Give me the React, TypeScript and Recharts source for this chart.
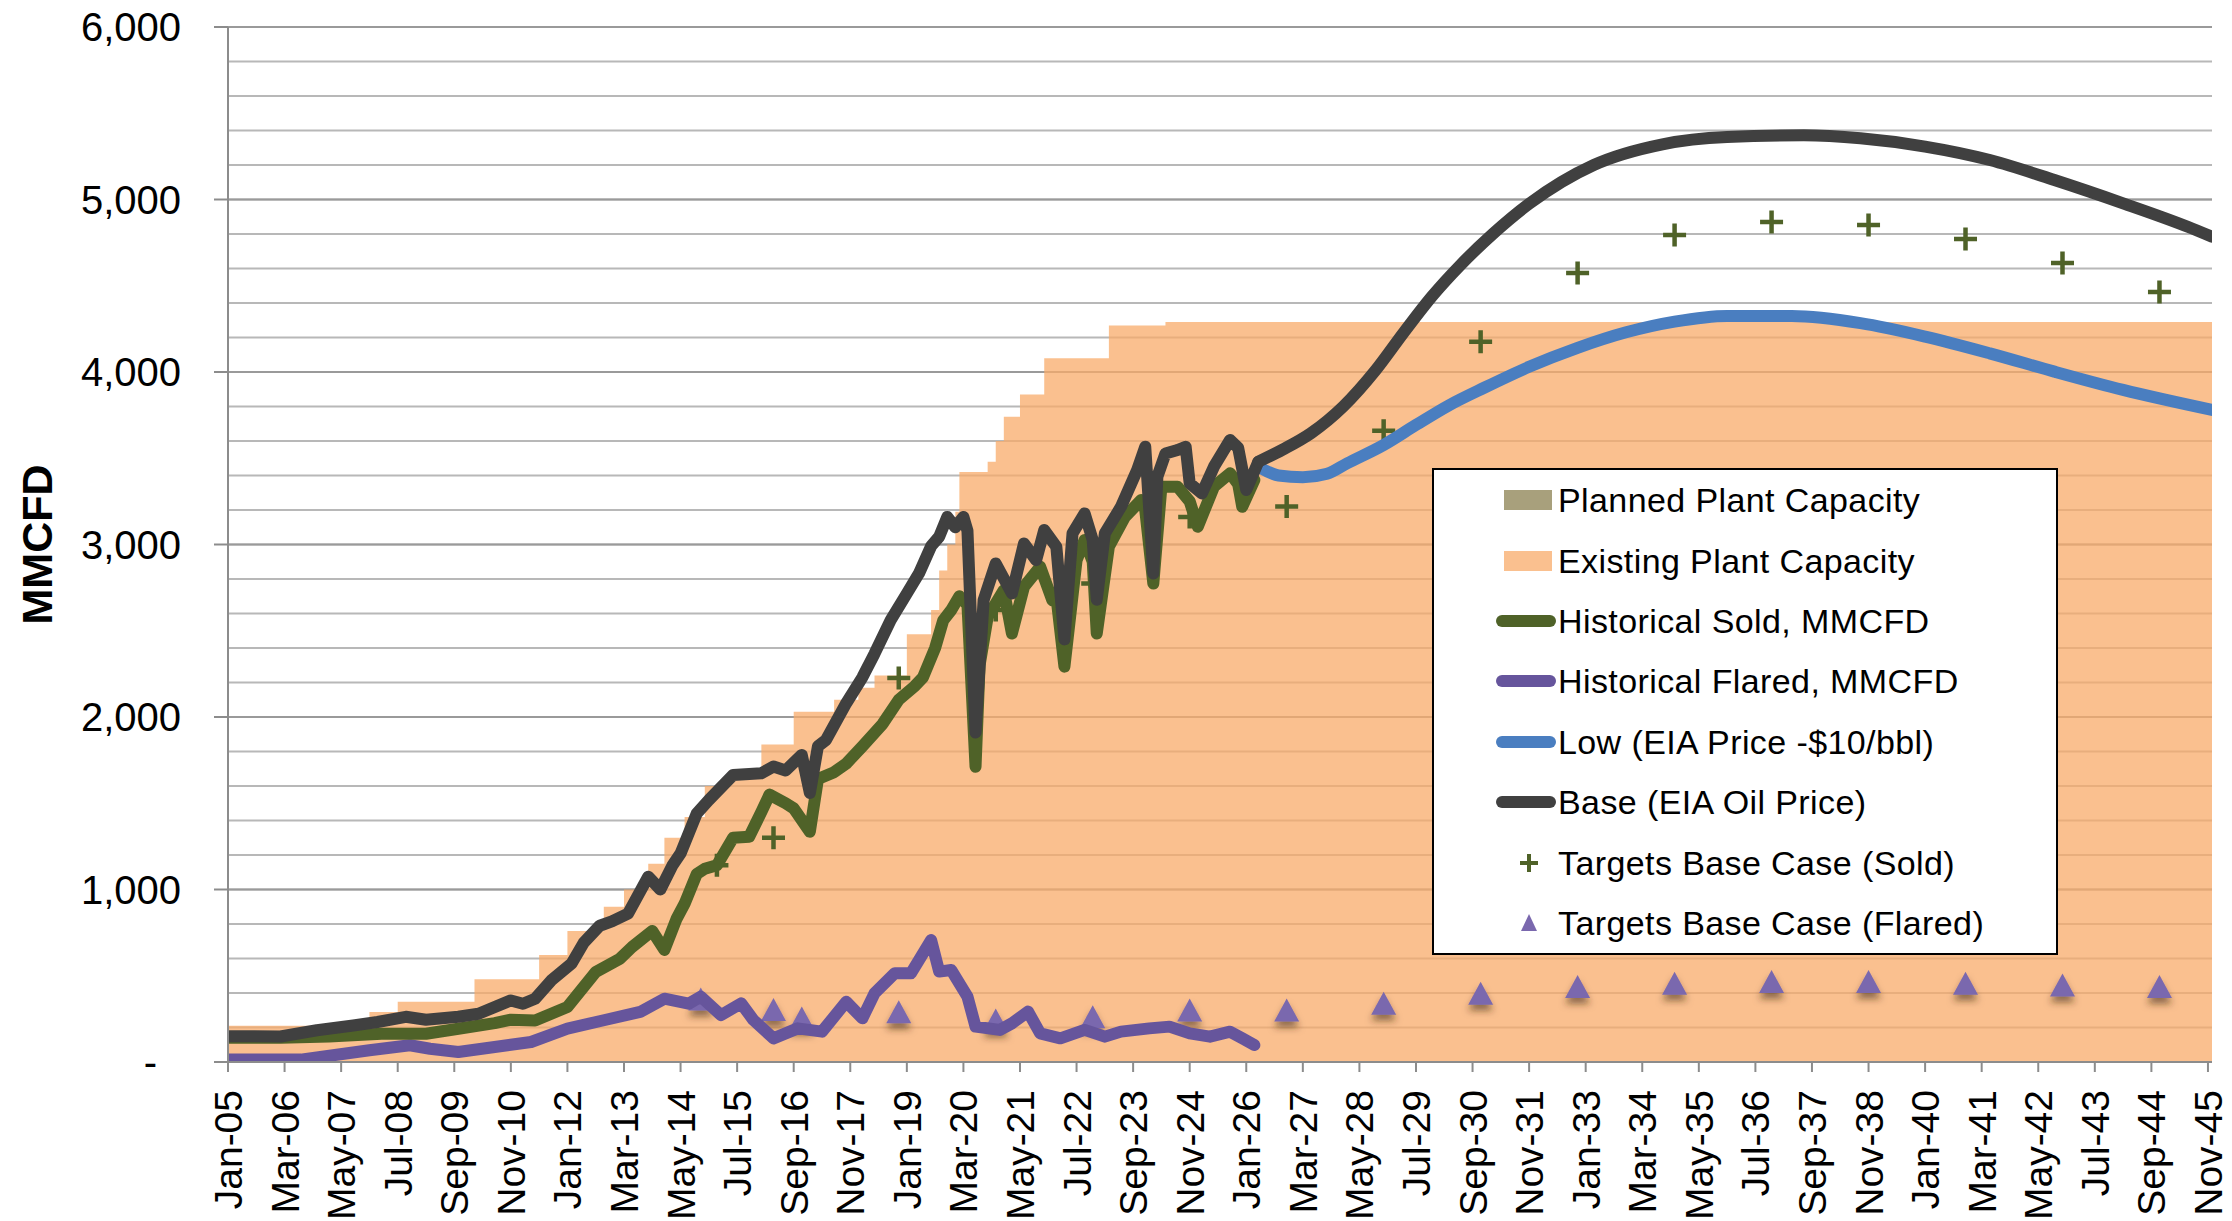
import React from 'react';
import { ComposedChart, Area, Line, Scatter, XAxis, YAxis, CartesianGrid, Legend } from 'recharts';

const FONT = '"Liberation Sans", Arial, Helvetica, sans-serif';

// X positions are months counted from Jan-05 (0) to Dec-45 (491)
const xTickMonths = [0, 14, 28, 42, 56, 70, 84, 98, 112, 126, 140, 154, 168, 182, 196, 210, 224, 238, 252, 266, 280, 294, 308, 322, 336, 350, 364, 378, 392, 406, 420, 434, 448, 462, 476, 490];
const xTickLabels = ['Jan-05', 'Mar-06', 'May-07', 'Jul-08', 'Sep-09', 'Nov-10', 'Jan-12', 'Mar-13', 'May-14', 'Jul-15', 'Sep-16', 'Nov-17', 'Jan-19', 'Mar-20', 'May-21', 'Jul-22', 'Sep-23', 'Nov-24', 'Jan-26', 'Mar-27', 'May-28', 'Jul-29', 'Sep-30', 'Nov-31', 'Jan-33', 'Mar-34', 'May-35', 'Jul-36', 'Sep-37', 'Nov-38', 'Jan-40', 'Mar-41', 'May-42', 'Jul-43', 'Sep-44', 'Nov-45'];
const yMajorTicks = [0, 1000, 2000, 3000, 4000, 5000, 6000];
const yMinorTicks = [0, 200, 400, 600, 800, 1000, 1200, 1400, 1600, 1800, 2000, 2200, 2400, 2600, 2800, 3000, 3200, 3400, 3600, 3800, 4000, 4200, 4400, 4600, 4800, 5000, 5200, 5400, 5600, 5800, 6000];

// Existing Plant Capacity (step changes)
const capacityMonths = [0, 35, 42, 61, 77, 84, 93, 98, 104, 108, 113, 118, 124, 132, 140, 150, 156, 160, 168, 174, 176, 178, 180, 181, 188, 190, 192, 196, 202, 218, 232, 491];
const capacityValues = [210, 290, 350, 480, 620, 760, 900, 1000, 1150, 1300, 1420, 1600, 1690, 1840, 2030, 2100, 2170, 2240, 2480, 2620, 2850, 3000, 3190, 3420, 3480, 3600, 3740, 3870, 4080, 4270, 4290, 4290];

// Base (EIA Oil Price) - historical part
const baseHistMonths = [0, 13, 22, 31, 37, 44, 49, 57, 62, 70, 73, 76, 80, 85, 88, 92, 95, 99, 104, 107, 110, 112, 116, 119, 125, 132, 135, 138, 142, 144, 146, 148, 153, 157, 160, 164, 168, 171, 174, 176, 178, 180, 182, 183, 185, 187, 190, 194, 197, 200, 202, 205, 207, 209, 212, 214, 215, 217, 221, 225, 227, 229, 230, 232, 235, 237, 238, 241, 244, 248, 250, 252, 255];
const baseHistValues = [150, 148, 184, 212, 232, 262, 245, 262, 280, 357, 338, 367, 473, 570, 690, 790, 815, 860, 1074, 1000, 1140, 1209, 1441, 1519, 1664, 1674, 1713, 1690, 1780, 1560, 1830, 1867, 2080, 2230, 2367, 2561, 2716, 2832, 2990, 3045, 3160, 3100, 3160, 3080, 1910, 2677, 2890, 2716, 3006, 2909, 3084, 2987, 2450, 3064, 3180, 3026, 2680, 3064, 3219, 3432, 3567, 2832, 3393, 3528, 3548, 3567, 3354, 3296, 3451, 3606, 3560, 3316, 3480];

// Base (EIA Oil Price) - forecast part
const baseFcstMonths = [255, 261, 268, 276, 284, 291, 298, 305, 313, 322, 338, 355, 371, 390, 404, 420, 436, 452, 469, 485, 491];
const baseFcstValues = [3480, 3550, 3645, 3800, 4010, 4230, 4440, 4620, 4800, 4975, 5200, 5320, 5362, 5372, 5355, 5307, 5229, 5113, 4978, 4842, 4784];

// Low (EIA Price -$10/bbl)
const lowMonths = [255, 260, 266, 272, 277, 286, 294, 302, 311, 322, 334, 346, 358, 371, 387, 404, 420, 436, 452, 469, 491];
const lowValues = [3452, 3400, 3390, 3410, 3471, 3577, 3693, 3805, 3910, 4030, 4140, 4230, 4292, 4325, 4324, 4283, 4205, 4108, 4002, 3896, 3780];

// Historical Sold, MMCFD
const soldMonths = [0, 13, 25, 38, 49, 57, 66, 70, 76, 84, 91, 97, 100, 105, 108, 111, 113, 116, 118, 121, 125, 129, 132, 134, 138, 140, 144, 146, 150, 153, 157, 162, 166, 170, 172, 175, 177, 179, 181, 183, 185, 186, 188, 192, 194, 197, 201, 204, 205, 207, 210, 212, 214, 215, 218, 222, 226, 227, 229, 231, 235, 238, 240, 244, 248, 250, 251, 254];
const soldValues = [140, 140, 148, 164, 164, 193, 225, 245, 241, 319, 522, 599, 667, 760, 650, 830, 918, 1090, 1120, 1141, 1300, 1306, 1450, 1550, 1500, 1470, 1335, 1640, 1680, 1730, 1830, 1960, 2100, 2180, 2230, 2400, 2560, 2620, 2700, 2650, 1712, 2300, 2580, 2735, 2484, 2755, 2871, 2677, 2700, 2292, 2909, 3026, 2900, 2484, 2987, 3161, 3258, 3200, 2774, 3335, 3335, 3250, 3103, 3335, 3413, 3350, 3219, 3374];

// Historical Flared, MMCFD
const flaredMonths = [0, 18, 26, 35, 45, 50, 57, 66, 75, 84, 93, 102, 108, 114, 117, 122, 127, 130, 135, 141, 147, 153, 157, 160, 165, 169, 171, 174, 176, 179, 183, 185, 191, 194, 198, 201, 206, 212, 217, 221, 228, 233, 238, 243, 248, 251, 254];
const flaredValues = [14, 14, 39, 68, 97, 77, 58, 87, 116, 193, 242, 290, 367, 338, 379, 272, 340, 244, 137, 195, 176, 349, 253, 398, 514, 514, 591, 707, 524, 533, 379, 205, 186, 224, 292, 166, 137, 186, 147, 176, 195, 205, 166, 147, 176, 137, 98];

// Targets Base Case (Sold)
const targetSoldMonths = [121, 135, 166, 190, 214, 238, 262, 286, 310, 334, 358, 382, 406, 430, 454, 478];
const targetSoldValues = [1140, 1300, 2226, 2620, 2774, 3160, 3220, 3660, 4176, 4574, 4794, 4870, 4852, 4771, 4632, 4464];

// Targets Base Case (Flared)
const targetFlaredMonths = [117, 135, 142, 166, 190, 214, 238, 262, 286, 310, 334, 358, 382, 406, 430, 454, 478];
const targetFlaredValues = [365, 305, 255, 292, 243, 263, 301, 301, 340, 398, 437, 456, 466, 466, 456, 447, 437];

const COLORS = {
  planned: '#A8A07C',
  capacityFill: '#F8AB6A',
  capacitySwatch: '#FAC08F',
  sold: '#4F6228',
  flared: '#66559C',
  low: '#4A7EC0',
  base: '#404040',
  plus: '#4F6228',
  tri: '#7A68AE',
};

const legendItems = [
  { label: 'Planned Plant Capacity', kind: 'rect', color: COLORS.planned },
  { label: 'Existing Plant Capacity', kind: 'rect', color: COLORS.capacitySwatch },
  { label: 'Historical Sold, MMCFD', kind: 'line', color: COLORS.sold },
  { label: 'Historical Flared, MMCFD', kind: 'line', color: COLORS.flared },
  { label: 'Low (EIA Price -$10/bbl)', kind: 'line', color: COLORS.low },
  { label: 'Base (EIA Oil Price)', kind: 'line', color: COLORS.base },
  { label: 'Targets Base Case (Sold)', kind: 'plus', color: COLORS.plus },
  { label: 'Targets Base Case (Flared)', kind: 'tri', color: COLORS.tri },
];

const zip = (ms: number[], vs: number[]) => ms.map((m, i) => ({ m, v: vs[i] }));

const capacityData = zip(capacityMonths, capacityValues);
const baseHistData = zip(baseHistMonths, baseHistValues);
const baseFcstData = zip(baseFcstMonths, baseFcstValues);
const lowData = zip(lowMonths, lowValues);
const soldData = zip(soldMonths, soldValues);
const flaredData = zip(flaredMonths, flaredValues);
const targetSoldData = zip(targetSoldMonths, targetSoldValues);
const targetFlaredData = zip(targetFlaredMonths, targetFlaredValues);

const LINE_W = 12;

const XTick = (props: any) => {
  const { x, y, payload } = props;
  const idx = xTickMonths.indexOf(payload.value);
  const label = idx >= 0 ? xTickLabels[idx] : '';
  return (
    <text
      transform={`translate(${x},${y + 16}) rotate(-90)`}
      textAnchor="end"
      dy="0.36em"
      fontSize={39}
      fontFamily={FONT}
      fill="#000"
    >
      {label}
    </text>
  );
};

const YTick = (props: any) => {
  const { x, y, payload } = props;
  const v = payload.value as number;
  const label = v === 0 ? '-' : v.toLocaleString('en-US');
  return (
    <text
      x={v === 0 ? x - 55 : x - 31}
      y={y}
      dy="0.36em"
      textAnchor="end"
      fontSize={40}
      fontFamily={FONT}
      fill="#000"
    >
      {label}
    </text>
  );
};

const YTitle = (props: any) => {
  const vb = props.viewBox || {};
  const cx = (vb.x ?? 0) + 37;
  const cy = (vb.y ?? 27) + (vb.height ?? 1035) / 2;
  return (
    <text
      transform={`translate(${cx},${cy}) rotate(-90)`}
      textAnchor="middle"
      dominantBaseline="central"
      fontSize={43}
      fontWeight="bold"
      fontFamily={FONT}
      fill="#000"
    >
      MMCFD
    </text>
  );
};

const PlusShape = (p: any) => {
  const { cx, cy } = p;
  if (cx == null || cy == null) return null;
  const h = 11.5;
  return (
    <path
      d={`M${cx - h},${cy}H${cx + h}M${cx},${cy - h}V${cy + h}`}
      stroke={COLORS.plus}
      strokeWidth={4.5}
      fill="none"
    />
  );
};

const TriShape = (p: any) => {
  const { cx, cy } = p;
  if (cx == null || cy == null) return null;
  const w = 12.5;
  const h = 11.5;
  return (
    <g>
      <defs>
        <filter id="triShadow" x="-60%" y="-60%" width="220%" height="240%">
          <feDropShadow dx="0" dy="6" stdDeviation="3.5" floodColor="#3a2a10" floodOpacity="0.55" />
        </filter>
      </defs>
      <path
        d={`M${cx},${cy - h}L${cx + w},${cy + h}L${cx - w},${cy + h}Z`}
        fill={COLORS.tri}
        filter="url(#triShadow)"
      />
    </g>
  );
};

const LegendBox = () => (
  <div
    style={{
      width: 626,
      height: 487,
      boxSizing: 'border-box',
      border: '2px solid #000',
      background: '#fff',
      fontFamily: FONT,
    }}
  >
    {legendItems.map((it) => (
      <div
        key={it.label}
        style={{ height: 60.4, display: 'flex', alignItems: 'center', position: 'relative' }}
      >
        <svg width={124} height={60} style={{ flex: '0 0 124px' }}>
          {it.kind === 'rect' && <rect x={70} y={20} width={48} height={20} fill={it.color} />}
          {it.kind === 'line' && (
            <line x1={68} y1={30} x2={116} y2={30} stroke={it.color} strokeWidth={12} strokeLinecap="round" />
          )}
          {it.kind === 'plus' && (
            <path d="M86,30H104M95,21V39" stroke={it.color} strokeWidth={4} fill="none" />
          )}
          {it.kind === 'tri' && <path d="M95,21L103,38L87,38Z" fill={it.color} />}
        </svg>
        <span style={{ fontSize: 34, color: '#000', letterSpacing: 0.4, whiteSpace: 'nowrap', lineHeight: '40px' }}>
          {it.label}
        </span>
      </div>
    ))}
  </div>
);

export default function App() {
  return (
    <div style={{ position: 'absolute', left: 0, top: 0, width: 2232, height: 1221, background: '#fff' }}>
      <ComposedChart width={2232} height={1221} margin={{ top: 27, right: 20, bottom: 0, left: 0 }}>
        <CartesianGrid
          yAxisId="left"
          vertical={false}
          horizontalValues={yMinorTicks}
          stroke="#B8B8B8"
          strokeWidth={2}
        />
        <CartesianGrid
          yAxisId="left"
          vertical={false}
          horizontalValues={yMajorTicks}
          stroke="#9A9A9A"
          strokeWidth={2}
        />
        <XAxis
          dataKey="m"
          type="number"
          domain={[0, 491]}
          ticks={xTickMonths}
          interval={0}
          allowDataOverflow
          height={159}
          tick={<XTick />}
          tickSize={10}
          tickLine={{ stroke: '#8C8C8C', strokeWidth: 2 }}
          axisLine={{ stroke: '#8C8C8C', strokeWidth: 2 }}
        />
        <YAxis
          yAxisId="left"
          type="number"
          domain={[0, 6000]}
          ticks={yMajorTicks}
          interval={0}
          allowDataOverflow
          width={228}
          tick={<YTick />}
          tickSize={14}
          tickLine={{ stroke: '#8C8C8C', strokeWidth: 2 }}
          axisLine={{ stroke: '#8C8C8C', strokeWidth: 2 }}
          label={<YTitle />}
        />
        <Area
          yAxisId="left"
          data={capacityData}
          dataKey="v"
          type="stepAfter"
          fill={COLORS.capacityFill}
          fillOpacity={0.75}
          stroke="none"
          isAnimationActive={false}
          name="Existing Plant Capacity"
        />
        <Scatter
          yAxisId="left"
          data={targetSoldData}
          dataKey="v"
          shape={<PlusShape />}
          isAnimationActive={false}
          name="Targets Base Case (Sold)"
          zIndex={350}
        />
        <Scatter
          yAxisId="left"
          data={targetFlaredData}
          dataKey="v"
          shape={<TriShape />}
          isAnimationActive={false}
          name="Targets Base Case (Flared)"
          zIndex={350}
        />
        <Line
          yAxisId="left"
          data={flaredData}
          dataKey="v"
          type="linear"
          stroke={COLORS.flared}
          strokeWidth={LINE_W}
          strokeLinejoin="round"
          strokeLinecap="round"
          dot={false}
          activeDot={false}
          isAnimationActive={false}
          name="Historical Flared, MMCFD"
        />
        <Line
          yAxisId="left"
          data={soldData}
          dataKey="v"
          type="linear"
          stroke={COLORS.sold}
          strokeWidth={LINE_W}
          strokeLinejoin="round"
          strokeLinecap="round"
          dot={false}
          activeDot={false}
          isAnimationActive={false}
          name="Historical Sold, MMCFD"
        />
        <Line
          yAxisId="left"
          data={lowData}
          dataKey="v"
          type="monotone"
          stroke={COLORS.low}
          strokeWidth={LINE_W}
          strokeLinecap="round"
          dot={false}
          activeDot={false}
          isAnimationActive={false}
          name="Low (EIA Price -$10/bbl)"
        />
        <Line
          yAxisId="left"
          data={baseHistData}
          dataKey="v"
          type="linear"
          stroke={COLORS.base}
          strokeWidth={LINE_W}
          strokeLinejoin="round"
          strokeLinecap="round"
          dot={false}
          activeDot={false}
          isAnimationActive={false}
          name="Base (EIA Oil Price)"
        />
        <Line
          yAxisId="left"
          data={baseFcstData}
          dataKey="v"
          type="monotone"
          stroke={COLORS.base}
          strokeWidth={LINE_W}
          strokeLinecap="round"
          dot={false}
          activeDot={false}
          isAnimationActive={false}
          name="Base (EIA Oil Price) forecast"
          legendType="none"
        />
        <Legend
          layout="vertical"
          align="center"
          verticalAlign="middle"
          content={<LegendBox />}
          wrapperStyle={{ left: 1432, top: 468, width: 626, height: 487 }}
        />
      </ComposedChart>
    </div>
  );
}
